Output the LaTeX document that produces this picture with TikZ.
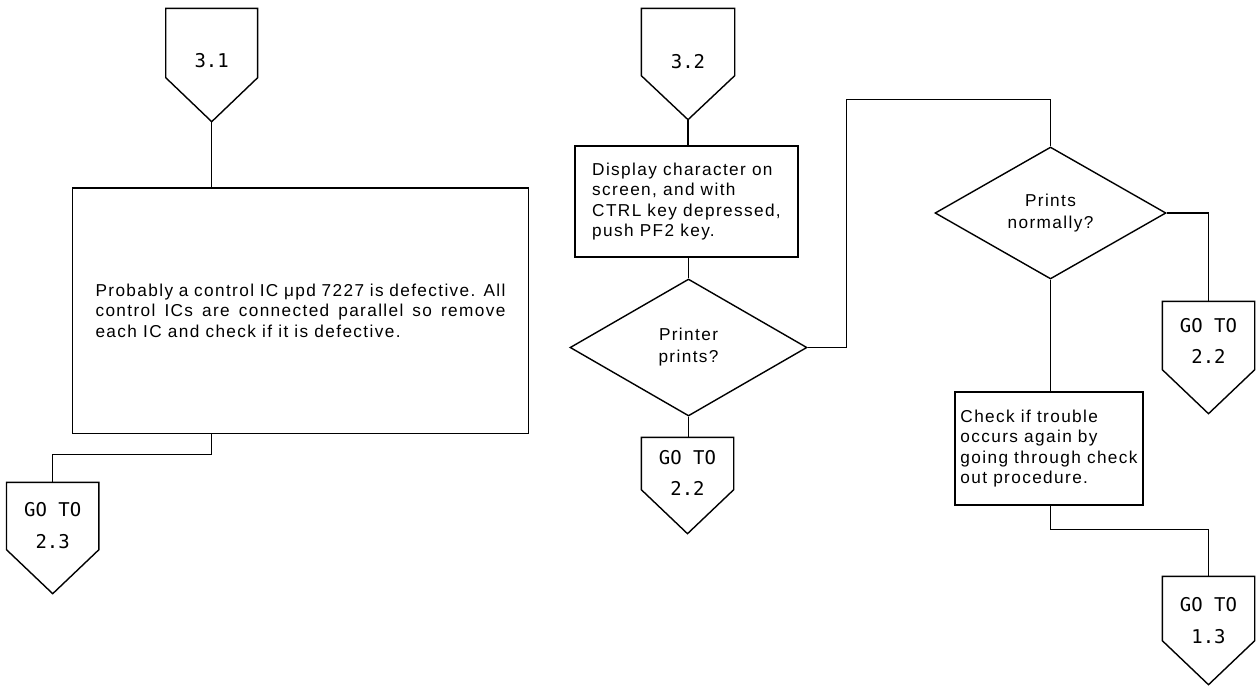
\documentclass[tikz,border=0pt]{standalone}
\usepackage{fontspec}
\newfontfamily\bodyfont{Liberation Sans}[LetterSpace=8]
\newfontfamily\tagfont{DejaVu Sans Mono}
\usetikzlibrary{calc,shapes.geometric}
\newcommand{\tagoutline}[1]{\draw (#1.north west) -- ([yshift=0.88cm]#1.south west) -- (#1.south) -- ([yshift=0.88cm]#1.south east) -- (#1.north east) -- cycle;}

\begin{document}
\begin{tikzpicture}[x=0.02cm,y=-0.02cm,line width=0.8pt]
\tikzstyle{b}=[draw,inner sep=0pt,font={\bodyfont\fontsize{9.8}{11.7}\selectfont}]
\tikzstyle{d}=[b,diamond,align=center]
\tikzstyle{tag}=[inner sep=0pt,align=center,minimum width=1.82cm,text depth=0.5cm,font={\tagfont\fontsize{10.8}{18}\selectfont}]
\useasboundingbox (0,0) rectangle (1256,686);
% left column
\node[tag,minimum width=1.81cm,minimum height=2.24cm,text depth=0.2cm] (t31) at (211.7,65) {3.1};
\node[b,minimum width=9.11cm,minimum height=4.91cm,text width=8.2cm,align=justify] (ic) at (300.5,310.8) {Probably a control IC μpd 7227 is defective. All\linebreak control ICs are connected parallel so remove\linebreak each IC and check if it is defective.};
\node[tag,minimum height=2.2cm] (g23) at (52.7,538) {GO TO\\2.3};
% middle column
\node[tag,minimum width=1.84cm,minimum height=2.2cm,text depth=0.12cm] (t32) at (688,64) {3.2};
\node[b,minimum width=4.46cm,minimum height=2.22cm,align=left] (disp) at (686.5,201.5) {Display character on\\screen, and with\\CTRL key depressed,\\push PF2 key.};
\node[d,minimum width=4.74cm,minimum height=2.74cm,font={\bodyfont\fontsize{9.8}{12.5}\selectfont}] (prn) at (688.5,347.5) {Printer\\prints?};
\node[tag,minimum height=1.9cm] (g22a) at (687.5,485.5) {GO TO\\2.2};
% right column
\node[d,minimum width=4.62cm,minimum height=2.64cm,font={\bodyfont\fontsize{9.8}{12.5}\selectfont}] (norm) at (1050.5,213) {Prints\\normally?};
\node[tag,minimum height=2.22cm,text depth=0.66cm] (g22b) at (1208.5,357.5) {GO TO\\2.2};
\node[b,minimum width=3.76cm,minimum height=2.26cm,align=left] (chk) at (1049,448.5) {Check if trouble\\occurs again by\\going through check\\out procedure.};
\node[tag,minimum height=2.14cm,text depth=0.4cm] (g13) at (1208.5,630.5) {GO TO\\1.3};
\tagoutline{t31} \tagoutline{g23} \tagoutline{t32} \tagoutline{g22a} \tagoutline{g22b} \tagoutline{g13}
\draw (t31.south) -- (t31.south |- ic.north);
\draw (t31.south |- ic.south) -- ++(0,20) -| (g23.north);
\draw (t32.south) -- (t32.south |- disp.north);
\draw (prn.north |- disp.south) -- (prn.north);
\draw (prn.south) -- (prn.south |- g22a.north);
\draw (prn.east) -- ++(39,0) |- ($(norm.north)+(0,-47)$) -- (norm.north);
\draw (norm.east) -| (g22b.north);
\draw (norm.south) -- (norm.south |- chk.north);
\draw (norm.south |- chk.south) -- ++(0,24) -| (g13.north);
\end{tikzpicture}
\end{document}
